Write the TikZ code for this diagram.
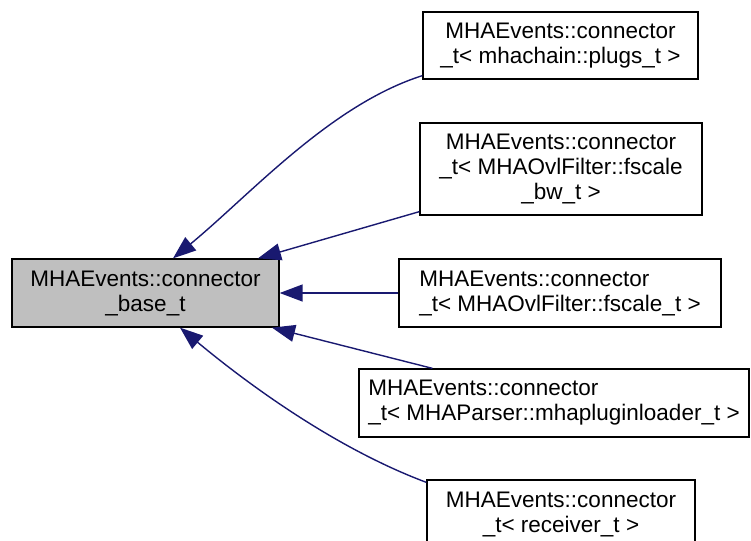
\documentclass[tikz,border=0pt]{standalone}
\usepackage{fontspec}
\setmainfont{Liberation Sans}
\usetikzlibrary{arrows.meta}
\definecolor{edgec}{HTML}{191970}
\definecolor{graynode}{HTML}{BFBFBF}
\begin{document}
\begin{tikzpicture}[x=1pt,y=-1pt,
  box/.style={draw=black, line width=1.3pt, inner sep=0pt, fill=white,
    font=\fontsize{22.5}{25}\selectfont},
  edge/.style={draw=edgec, line width=1.4pt, -{Triangle[length=23pt,width=17pt]}}]
\useasboundingbox (0,0) rectangle (751,540);
\clip (0,0) rectangle (751,540);
\node[box, fill=graynode, minimum width=267pt, minimum height=68pt, align=center] (L) at (145.5,293) {MHAEvents::connector\\\_base\_t};
\node[box, minimum width=275pt, minimum height=67pt, align=center] (n1) at (560.5,45.5) {MHAEvents::connector\\\_t< mhachain::plugs\_t >};
\node[box, minimum width=282pt, minimum height=92pt, align=center] (n2) at (561,169) {MHAEvents::connector\\\_t< MHAOvlFilter::fscale\\\_bw\_t >};
\node[box, minimum width=322pt, minimum height=68pt, align=left] (n3) at (560,293) {MHAEvents::connector\\\_t< MHAOvlFilter::fscale\_t >};
\node[box, minimum width=390pt, minimum height=68pt, align=left] (n4) at (554,403) {MHAEvents::connector\\\_t< MHAParser::mhapluginloader\_t >};
\node[box, minimum width=268pt, minimum height=68pt, align=center] (n5) at (561,514) {MHAEvents::connector\\\_t< receiver\_t >};
\draw[edge] ([yshift=4pt]n1.south west) .. controls (330,105) and (250,195) .. ([xshift=27.5pt]L.north);
\draw[edge] ([yshift=4pt]n2.south west) -- ([xshift=112.5pt]L.north);
\draw[edge] (n3.west) -- (L.east);
\draw[edge] ([xshift=74pt]n4.north west) -- ([xshift=126.5pt]L.south);
\draw[edge] ([yshift=-3pt]n5.north west) .. controls (340,450) and (255,390) .. ([xshift=34.5pt]L.south);
\end{tikzpicture}
\end{document}
